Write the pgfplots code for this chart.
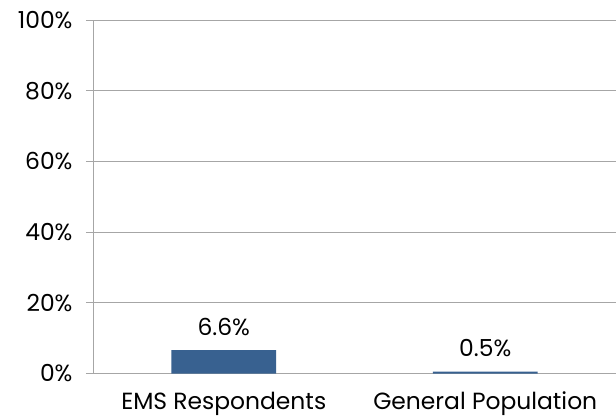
\documentclass[border=0pt]{standalone}
\usepackage{pgfplots}
\pgfplotsset{compat=1.18}
\usetikzlibrary{calc}
\usepackage{fontspec}
\setmainfont{Poppins}
\definecolor{barblue}{HTML}{386190}
\definecolor{gridgray}{HTML}{A6A6A6}
\begin{document}
\begin{tikzpicture}
\begin{axis}[
    name=ax,
    scale only axis,
    width=523bp, height=353.5bp,
    ymin=0, ymax=100,
    xmin=-0.5, xmax=1.5,
    ytick={0,20,...,100},
    yticklabel={\pgfmathprintnumber{\tick}\%},
    /pgf/number format/assume math mode=true,
    xtick={0,1},
    xticklabels={EMS Respondents, General Population},
    extra x ticks={-0.5,0.5,1.5},
    extra x tick labels={},
    extra x tick style={major tick length=7bp, tick style={gridgray, line width=0.8pt}},
    axis x line*=bottom,
    axis y line*=left,
    axis line style={gridgray, line width=0.8pt},
    x axis line style={-},
    y axis line style={-},
    ymajorgrids,
    grid style={gridgray, line width=0.8pt},
    tick align=outside,
    major tick length=7bp,
    tick style={gridgray, line width=0.8pt},
    xtick style={draw=none},
    ticklabel style={font=\fontsize{23.5}{27}\selectfont, text=black},
    xticklabel style={yshift=-8bp},
    yticklabel style={xshift=-10bp},
    ybar,
    bar width=0.4,
    nodes near coords={\pgfmathprintnumber[fixed,precision=1,fixed zerofill]{\pgfplotspointmeta}\%},
    nodes near coords style={font=\fontsize{23.5}{27}\selectfont, text=black, yshift=11bp},
]
\addplot[fill=barblue, draw=none] coordinates {(0,6.6) (1,0.5)};
\end{axis}
\pgfresetboundingbox
\path ($(ax.south west)+(-93bp,-46.5bp)$) rectangle ($(ax.north east)+(0bp,20bp)$);
\end{tikzpicture}
\end{document}
